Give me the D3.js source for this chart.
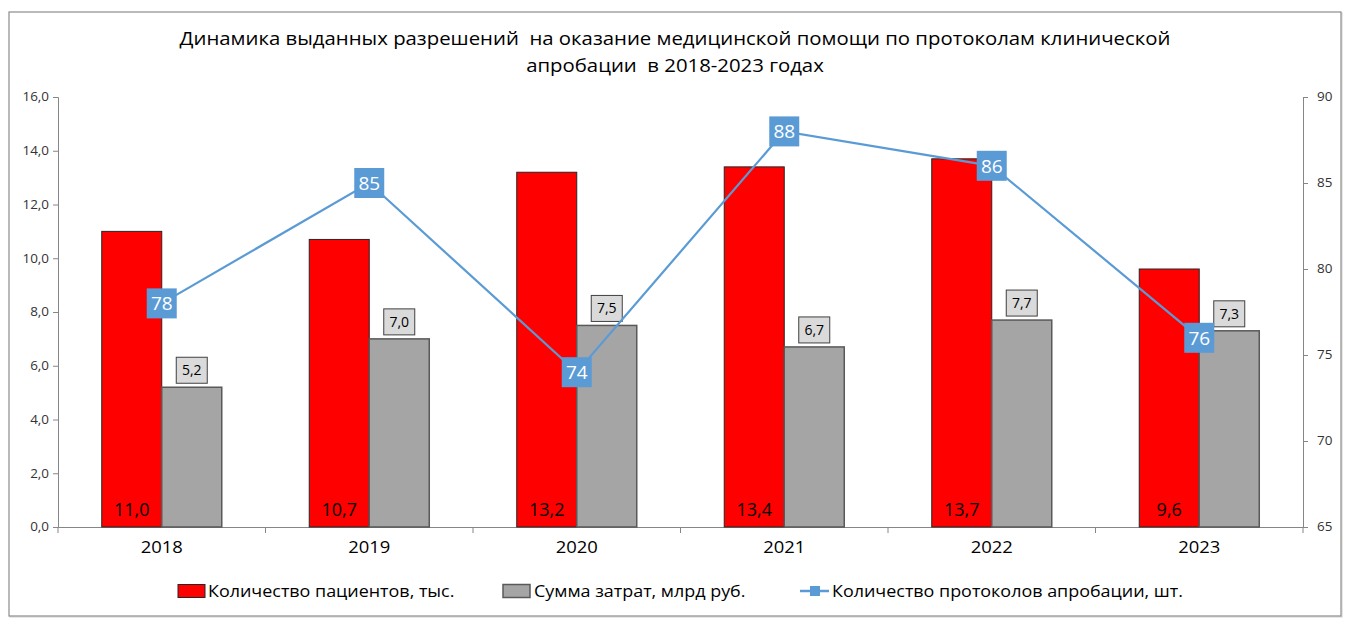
<!DOCTYPE html>
<html><head><meta charset="utf-8">
<script src="https://cdn.jsdelivr.net/npm/d3@7"></script>
<style>
html,body{margin:0;padding:0;background:#fff;}
svg text{font-family:"Open Sans","Noto Sans",sans-serif;}
</style></head>
<body><svg id="c" width="1350" height="629"></svg>
<script>
const years = ["2018","2019","2020","2021","2022","2023"];
const patients = [11.0, 10.7, 13.2, 13.4, 13.7, 9.6];
const costs = [5.2, 7.0, 7.5, 6.7, 7.7, 7.3];
const protocols = [78, 85, 74, 88, 86, 76];
const leftTicks = [0,2,4,6,8,10,12,14,16];
const rightTicks = [65,70,75,80,85,90];
const titleLines = ["Динамика выданных разрешений  на оказание медицинской помощи по протоколам клинической","апробации  в 2018-2023 годах"];
const seriesNames = ["Количество пациентов, тыс.","Сумма затрат, млрд руб.","Количество протоколов апробации, шт."];

const svg = d3.select("#c");
const L = 58, R = 1303, T = 97, B = 527;
const fmt = v => d3.format(".1f")(v).replace(".", ",");
function stretch(sel, k){
  sel.each(function(){
    const w = this.getComputedTextLength();
    d3.select(this).attr("textLength", w*k).attr("lengthAdjust","spacingAndGlyphs");
  });
}

// outer border
svg.append("rect").attr("x",10).attr("y",13).attr("width",1332).attr("height",604)
  .attr("fill","none").attr("stroke","#d0d0d0").attr("stroke-width",1);
svg.append("rect").attr("x",9).attr("y",12).attr("width",1332).attr("height",604)
  .attr("fill","#fff").attr("stroke","#8c8c8c").attr("stroke-width",1.2);

// title
const tt = svg.selectAll("text.title").data(titleLines).join("text").attr("class","title")
  .attr("x",675).attr("y",(d,i)=>45+i*27).attr("text-anchor","middle")
  .attr("font-size",18).attr("fill","#000").style("white-space","pre").text(d=>d);
stretch(tt, 1.13);

const x = d3.scaleBand().domain(years).range([L,R]).paddingInner(0).paddingOuter(0);
const bw = x.bandwidth();
const x1 = d3.scaleBand().domain(["p","c"]).range([0,bw]).paddingInner(0).paddingOuter(0.729);
const y = d3.scaleLinear().domain([0,16]).range([B,T]);
const y2 = d3.scaleLinear().domain([65,90]).range([B,T]);

// axes
const gl = svg.append("g").attr("transform",`translate(${L},0)`)
  .call(d3.axisLeft(y).tickValues(leftTicks).tickFormat(fmt).tickSizeOuter(0).tickSize(5));
gl.selectAll("text").attr("font-size",12).attr("fill","#333").attr("x",-9);
const gr = svg.append("g").attr("transform",`translate(${R},0)`)
  .call(d3.axisRight(y2).tickValues(rightTicks).tickSizeOuter(0).tickSize(5));
gr.selectAll("text").attr("font-size",12).attr("fill","#333").attr("x",14);
[gl,gr].forEach(g=>{g.select(".domain").attr("stroke","#868686");g.selectAll(".tick line").attr("stroke","#868686");});
stretch(gl.selectAll("text"),1.12);
stretch(gr.selectAll("text"),1.12);

const gx = svg.append("g").attr("transform",`translate(0,${B})`)
  .call(d3.axisBottom(x).tickSize(0).tickSizeOuter(0));
gx.select(".domain").attr("stroke","#868686");
gx.selectAll("text").attr("font-size",16).attr("fill","#000").attr("dy","1.45em");
stretch(gx.selectAll("text"),1.15);
// category boundary ticks
svg.append("g").selectAll("line").data(years.concat(["end"])).join("line")
  .attr("x1",(d,i)=> i<years.length ? x(d) : x(years[years.length-1])+bw)
  .attr("x2",(d,i)=> i<years.length ? x(d) : x(years[years.length-1])+bw)
  .attr("y1",B).attr("y2",B+6).attr("stroke","#868686");

// bars
const g = svg.append("g");
g.selectAll("rect.p").data(patients).join("rect").attr("class","p")
  .attr("x",(d,i)=>x(years[i])+x1("p")).attr("width",x1.bandwidth())
  .attr("y",d=>y(d)).attr("height",d=>B-y(d))
  .attr("fill","#ff0000").attr("stroke","#262626").attr("stroke-width",1);
g.selectAll("rect.c").data(costs).join("rect").attr("class","c")
  .attr("x",(d,i)=>x(years[i])+x1("c")).attr("width",x1.bandwidth())
  .attr("y",d=>y(d)).attr("height",d=>B-y(d))
  .attr("fill","#a5a5a5").attr("stroke","#595959").attr("stroke-width",1.5);

// patient labels inside bottom
g.selectAll("text.pl").data(patients).join("text").attr("class","pl")
  .attr("x",(d,i)=>x(years[i])+x1("p")+x1.bandwidth()/2).attr("y",B-11)
  .attr("text-anchor","middle").attr("font-size",18).attr("fill","#000").text(d=>fmt(d));

// cost labels boxes
const cl = g.selectAll("g.cl").data(costs).join("g").attr("class","cl")
  .attr("transform",(d,i)=>`translate(${x(years[i])+x1("c")+x1.bandwidth()/2},${y(d)-17})`);
cl.append("rect").attr("x",-15.5).attr("y",-13).attr("width",31).attr("height",26)
  .attr("fill","#dadada").attr("stroke","#404040").attr("stroke-width",1);
cl.append("text").attr("text-anchor","middle").attr("dy","0.36em").attr("font-size",14)
  .attr("fill","#000").text(d=>fmt(d));

// line
const cx = (d,i)=>x(years[i])+bw/2;
svg.append("path").datum(protocols)
  .attr("d",d3.line().x(cx).y(d=>y2(d)))
  .attr("fill","none").attr("stroke","#5b9bd5").attr("stroke-width",2.2);
const pl = svg.append("g").selectAll("g").data(protocols).join("g")
  .attr("transform",(d,i)=>`translate(${cx(d,i)},${y2(d)})`);
pl.append("rect").attr("x",-15).attr("y",-15).attr("width",30).attr("height",30).attr("fill","#5b9bd5");
pl.append("text").attr("text-anchor","middle").attr("dy","0.36em").attr("font-size",19)
  .attr("fill","#fff").text(d=>d);

// legend
const ly = 591;
const lg = svg.append("g");
lg.append("rect").attr("x",178).attr("y",ly-6.5).attr("width",27).attr("height",13)
  .attr("fill","#ff0000").attr("stroke","#262626");
lg.append("rect").attr("x",503).attr("y",ly-6.5).attr("width",27).attr("height",13)
  .attr("fill","#a5a5a5").attr("stroke","#595959").attr("stroke-width",1.5);
lg.append("line").attr("x1",800).attr("x2",829).attr("y1",ly).attr("y2",ly).attr("stroke","#5b9bd5").attr("stroke-width",2.5);
lg.append("rect").attr("x",810).attr("y",ly-5).attr("width",10).attr("height",10).attr("fill","#5b9bd5");
const lt = lg.selectAll("text").data(seriesNames).join("text")
  .attr("x",(d,i)=>[208,534,832][i]).attr("y",ly).attr("dy","0.35em").attr("font-size",16).text(d=>d);
stretch(lt,1.12);
</script></body></html>
